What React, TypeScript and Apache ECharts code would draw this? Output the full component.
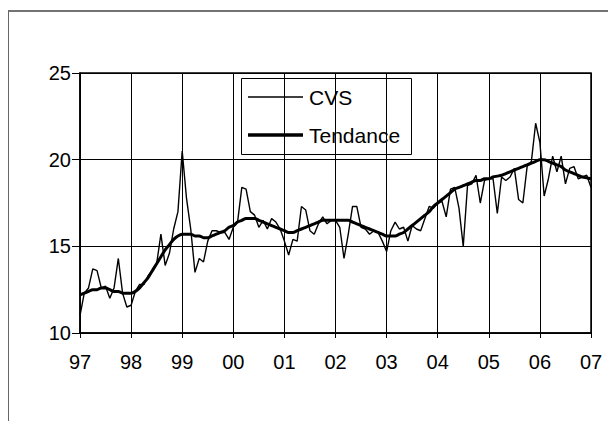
import React, { useEffect, useRef } from "react";
import * as echarts from "echarts";

const yearLabels = ["97", "98", "99", "00", "01", "02", "03", "04", "05", "06", "07"];
const seriesNames = ["CVS", "Tendance"];

// Monthly values, Jan 1997 .. Jan 2007
const cvs = [
  11.0, 12.3, 12.6, 13.7, 13.6, 12.6, 12.7, 12.0, 12.6, 14.3, 12.3, 11.5,
  11.6, 12.4, 12.8, 12.8, 13.3, 13.6, 14.0, 15.7, 13.9, 14.6, 16.0, 17.0,
  20.5, 17.8, 16.0, 13.5, 14.3, 14.1, 15.3, 15.9, 15.9, 15.8, 15.8, 15.4,
  16.1, 16.4, 18.4, 18.3, 17.0, 16.8, 16.1, 16.5, 16.0, 16.6, 16.4, 16.0,
  15.3, 14.5, 15.4, 15.3, 17.3, 17.1, 15.9, 15.7, 16.3, 16.7, 16.3, 16.5,
  16.5, 16.1, 14.3, 15.7, 17.3, 17.3, 16.1, 16.0, 15.7, 15.9, 15.8, 15.3,
  14.7, 15.9, 16.4, 16.0, 16.1, 15.3, 16.2, 16.0, 15.9, 16.6, 17.3, 17.2,
  17.5, 17.6, 16.7, 18.3, 18.4, 17.2, 15.0, 18.5, 18.6, 19.1, 17.5, 18.8,
  18.9, 18.9, 16.9, 19.0, 18.8, 19.0, 19.5, 17.7, 17.5, 19.6, 19.9, 22.1,
  21.0, 17.9, 18.9, 20.2, 19.3, 20.2, 18.6, 19.5, 19.6, 18.9, 19.0, 19.1,
  18.4,
];

const tendance = [
  12.2, 12.3, 12.4, 12.5, 12.5, 12.6, 12.6, 12.5, 12.4, 12.4, 12.3, 12.3,
  12.3, 12.4, 12.6, 12.9, 13.2, 13.6, 14.0, 14.4, 14.8, 15.1, 15.4, 15.6,
  15.7, 15.7, 15.7, 15.6, 15.6, 15.5, 15.5, 15.6, 15.7, 15.8, 15.9, 16.1,
  16.2, 16.4, 16.5, 16.6, 16.6, 16.6, 16.5, 16.4, 16.3, 16.2, 16.1, 16.0,
  15.9, 15.8, 15.8, 15.9, 16.0, 16.1, 16.2, 16.3, 16.4, 16.5, 16.5, 16.5,
  16.5, 16.5, 16.5, 16.5, 16.4, 16.3, 16.2, 16.1, 16.0, 15.9, 15.8, 15.7,
  15.6, 15.6, 15.6, 15.7, 15.8, 16.0, 16.2, 16.4, 16.6, 16.8, 17.0, 17.3,
  17.5, 17.7, 17.9, 18.1, 18.3, 18.4, 18.5, 18.6, 18.7, 18.8, 18.8, 18.9,
  18.9, 19.0, 19.05, 19.1, 19.2, 19.3, 19.4, 19.5, 19.6, 19.7, 19.8, 19.9,
  20.0, 20.0, 19.9, 19.8, 19.7, 19.6, 19.4, 19.3, 19.2, 19.1, 19.0, 18.95,
  18.9,
];

const FONT = "'Liberation Sans', Arial, sans-serif";

export default function App() {
  const ref = useRef<HTMLDivElement>(null);
  useEffect(() => {
    if (!ref.current) return;
    const chart = echarts.init(ref.current, undefined, { renderer: "svg" });
    const toPts = (arr: number[]) => arr.map((v, i) => [i / 12, v]);
    chart.setOption({
      animation: false,
      backgroundColor: "#ffffff",
      textStyle: { fontFamily: FONT },
      grid: {
        left: 80,
        top: 73,
        width: 511,
        height: 260,
        show: true,
        borderColor: "#000",
        borderWidth: 1.5,
        backgroundColor: "#fff",
      },
      graphic: [
        { type: "line", shape: { x1: 8, y1: 11, x2: 608, y2: 11 }, style: { stroke: "#444", lineWidth: 1.5 } },
        { type: "line", shape: { x1: 8.5, y1: 11, x2: 8.5, y2: 421 }, style: { stroke: "#666", lineWidth: 1 } },
        {
          type: "group",
          z: 100,
          children: [
            { type: "rect", shape: { x: 241.5, y: 78.5, width: 170, height: 76 }, style: { fill: "#fff", stroke: "#000", lineWidth: 1 } },
            { type: "line", shape: { x1: 248, y1: 97, x2: 303, y2: 97 }, style: { stroke: "#000", lineWidth: 1.5 } },
            { type: "line", shape: { x1: 248, y1: 135, x2: 303, y2: 135 }, style: { stroke: "#000", lineWidth: 3.5 } },
            { type: "text", x: 309, y: 97, style: { text: seriesNames[0], fontSize: 21, fontFamily: FONT, fill: "#000", verticalAlign: "middle", align: "left" } },
            { type: "text", x: 309, y: 135, style: { text: seriesNames[1], fontSize: 21, fontFamily: FONT, fill: "#000", verticalAlign: "middle", align: "left" } },
          ],
        },
      ],
      legend: { show: false, data: seriesNames },
      xAxis: {
        type: "value",
        min: 0,
        max: 10,
        interval: 1,
        axisLine: { show: true, lineStyle: { color: "#000", width: 1.5 } },
        axisTick: { show: true, length: 5, lineStyle: { color: "#000" } },
        splitLine: { show: true, lineStyle: { color: "#000", width: 1 } },
        axisLabel: {
          fontSize: 20,
          color: "#000",
          margin: 19,
          fontFamily: FONT,
          formatter: (v: number) => yearLabels[Math.round(v)] ?? "",
        },
      },
      yAxis: {
        type: "value",
        min: 10,
        max: 25,
        interval: 5,
        axisLine: { show: true, lineStyle: { color: "#000", width: 1.5 } },
        axisTick: { show: true, length: 8, lineStyle: { color: "#000" } },
        splitLine: { show: true, lineStyle: { color: "#000", width: 1 } },
        axisLabel: { fontSize: 20, color: "#000", margin: 9, fontFamily: FONT },
      },
      series: [
        {
          name: seriesNames[0],
          type: "line",
          data: toPts(cvs),
          symbol: "none",
          lineStyle: { color: "#000", width: 1.4 },
          itemStyle: { color: "#000" },
          z: 3,
        },
        {
          name: seriesNames[1],
          type: "line",
          data: toPts(tendance),
          symbol: "none",
          smooth: 0.3,
          lineStyle: { color: "#000", width: 3 },
          itemStyle: { color: "#000" },
          z: 4,
        },
      ],
    });
    return () => chart.dispose();
  }, []);
  return (
    <div
      ref={ref}
      style={{ position: "absolute", left: 0, top: 0, width: 608, height: 421, background: "#fff" }}
    />
  );
}
